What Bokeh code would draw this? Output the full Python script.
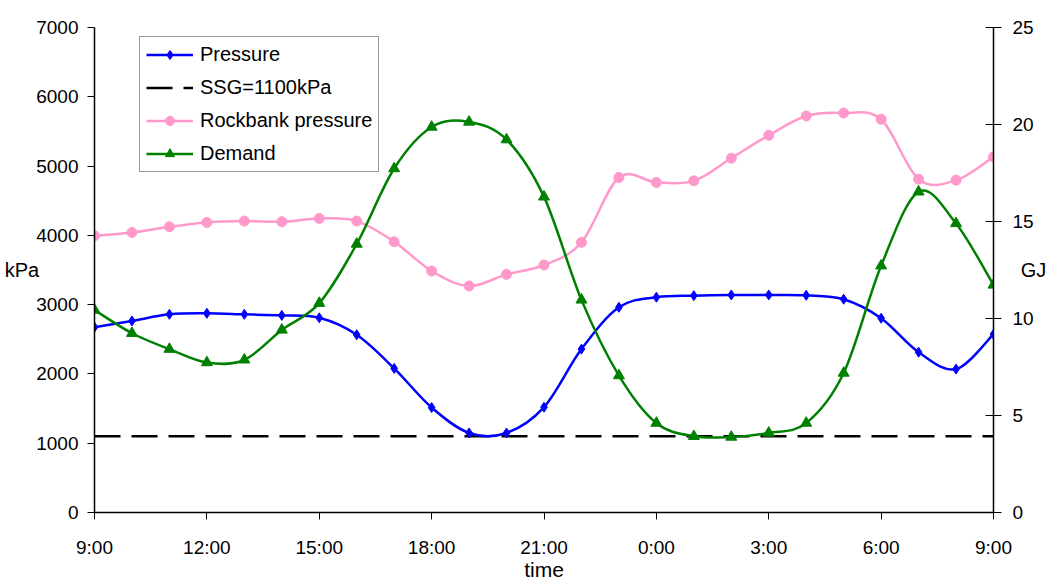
import numpy as np
from bokeh.plotting import figure
from bokeh.models import (Range1d, LinearAxis, FixedTicker, Legend, LegendItem,
                          ColumnDataSource)
from bokeh.embed import file_html
from bokeh.resources import INLINE

# ---------------- data ----------------
times = ["9:00", "10:00", "11:00", "12:00", "13:00", "14:00", "15:00", "16:00",
         "17:00", "18:00", "19:00", "20:00", "21:00", "22:00", "23:00", "0:00",
         "1:00", "2:00", "3:00", "4:00", "5:00", "6:00", "7:00", "8:00", "9:00"]
pressure = [2675, 2765, 2860, 2875, 2860, 2845, 2810, 2565, 2080, 1515, 1148, 1148,
            1520, 2358, 2962, 3107, 3130, 3140, 3140, 3135, 3078, 2804, 2314, 2070, 2574]
rockbank = [3994, 4042, 4124, 4186, 4206, 4196, 4244, 4206, 3908, 3485, 3269, 3437,
            3572, 3899, 4835, 4763, 4787, 5113, 5444, 5723, 5766, 5675, 4811, 4796, 5133]
demand = [10.44, 9.24, 8.42, 7.73, 7.87, 9.41, 10.79, 13.84, 17.73, 19.87, 20.13, 19.22,
          16.27, 10.96, 7.06, 4.61, 3.93, 3.89, 4.10, 4.61, 7.19, 12.72, 16.53, 14.90, 11.73]
ssg_level = 1100
x_tick_labels = ["9:00", "12:00", "15:00", "18:00", "21:00", "0:00", "3:00", "6:00", "9:00"]
left_ticks = [0, 1000, 2000, 3000, 4000, 5000, 6000, 7000]
right_ticks = [0, 5, 10, 15, 20, 25]

xs = list(range(len(times)))
ssg = [ssg_level] * len(times)

FONT = "Liberation Sans"
TICK_SIZE = "19px"
LEGEND_SIZE = "20px"


def smooth_source(x, y):
    """Catmull-Rom style Bezier segments through the data points (Excel smoothed line)."""
    x = np.asarray(x, dtype=float)
    y = np.asarray(y, dtype=float)
    n = len(x)
    d = dict(x0=[], y0=[], x1=[], y1=[], cx0=[], cy0=[], cx1=[], cy1=[])
    for i in range(n - 1):
        im1 = max(i - 1, 0)
        ip2 = min(i + 2, n - 1)
        d["x0"].append(x[i]); d["y0"].append(y[i])
        d["x1"].append(x[i + 1]); d["y1"].append(y[i + 1])
        d["cx0"].append(x[i] + (x[i + 1] - x[im1]) / 6.0)
        d["cy0"].append(y[i] + (y[i + 1] - y[im1]) / 6.0)
        d["cx1"].append(x[i + 1] - (x[ip2] - x[i]) / 6.0)
        d["cy1"].append(y[i + 1] - (y[ip2] - y[i]) / 6.0)
    return ColumnDataSource(d)


p = figure(width=1053, height=583, output_backend="svg", toolbar_location=None,
           x_range=Range1d(0, 24), y_range=Range1d(0, 7000),
           min_border_left=94, min_border_right=60, min_border_top=27,
           min_border_bottom=70, outline_line_color=None, tools="")
p.extra_y_ranges = {"gj": Range1d(0, 25)}
p.xgrid.visible = False
p.ygrid.visible = False
p.background_fill_color = "white"
p.border_fill_color = "white"

# axes styling
for ax in [p.xaxis[0], p.yaxis[0]]:
    ax.axis_line_color = "black"
    ax.axis_line_width = 1.5
    ax.major_tick_line_color = "black"
    ax.major_tick_line_width = 1
    ax.major_tick_in = 0
    ax.major_tick_out = 7
    ax.minor_tick_line_color = None
    ax.major_label_text_font = FONT
    ax.major_label_text_font_size = TICK_SIZE
    ax.major_label_text_color = "black"
    ax.axis_label_text_font = FONT
    ax.axis_label_text_font_size = "20px"
    ax.axis_label_text_font_style = "normal"
    ax.axis_label_text_color = "black"

tick_pos = [0, 3, 6, 9, 12, 15, 18, 21, 24]
p.xaxis[0].ticker = FixedTicker(ticks=tick_pos)
p.xaxis[0].major_label_overrides = {t: lab for t, lab in zip(tick_pos, x_tick_labels)}
p.xaxis[0].axis_label = "time"
p.xaxis[0].axis_label_text_font_size = "21px"
p.xaxis[0].major_label_standoff = 17
p.xaxis[0].axis_label_standoff = -3

p.yaxis[0].ticker = FixedTicker(ticks=left_ticks)
p.yaxis[0].axis_label = "kPa"
p.yaxis[0].axis_label_orientation = "horizontal"
p.yaxis[0].major_label_standoff = 9
p.yaxis[0].axis_label_standoff = -6

raxis = LinearAxis(y_range_name="gj", ticker=FixedTicker(ticks=right_ticks),
                   axis_label="GJ", axis_label_orientation="horizontal")
raxis.axis_line_color = "black"
raxis.axis_line_width = 1.5
raxis.major_tick_line_color = "black"
raxis.major_tick_in = 8
raxis.major_tick_out = 8
raxis.minor_tick_line_color = None
raxis.major_label_text_font = FONT
raxis.major_label_text_font_size = TICK_SIZE
raxis.major_label_text_color = "black"
raxis.major_label_standoff = 11
raxis.axis_label_text_font = FONT
raxis.axis_label_text_font_size = "20px"
raxis.axis_label_text_font_style = "normal"
raxis.axis_label_text_color = "black"
raxis.axis_label_standoff = -16
p.add_layout(raxis, "right")

# series
BLUE = "#0000FF"
PINK = "#FF99CC"
GREEN = "#008000"

ssg_r = p.line(xs, ssg, line_color="black", line_width=2.5, line_dash="26 11")

rock_line = p.bezier(source=smooth_source(xs, rockbank), x0="x0", y0="y0", x1="x1", y1="y1",
                     cx0="cx0", cy0="cy0", cx1="cx1", cy1="cy1",
                     line_color=PINK, line_width=2.5)
rock_pts = p.scatter(xs, rockbank, marker="circle", size=10, fill_color=PINK, line_color=PINK)

pres_line = p.bezier(source=smooth_source(xs, pressure), x0="x0", y0="y0", x1="x1", y1="y1",
                     cx0="cx0", cy0="cy0", cx1="cx1", cy1="cy1",
                     line_color=BLUE, line_width=2.5)
pres_pts = p.scatter(xs, pressure, marker="diamond", size=10,
                     fill_color=BLUE, line_color=BLUE)

dem_line = p.bezier(source=smooth_source(xs, demand), x0="x0", y0="y0", x1="x1", y1="y1",
                    cx0="cx0", cy0="cy0", cx1="cx1", cy1="cy1",
                    line_color=GREEN, line_width=2.5, y_range_name="gj")
dem_pts = p.scatter(xs, demand, marker="triangle", size=11, fill_color=GREEN,
                    line_color=GREEN, y_range_name="gj")

legend = Legend(items=[
    LegendItem(label="Pressure", renderers=[pres_line, pres_pts]),
    LegendItem(label="SSG=1100kPa", renderers=[ssg_r]),
    LegendItem(label="Rockbank pressure", renderers=[rock_line, rock_pts]),
    LegendItem(label="Demand", renderers=[dem_line, dem_pts]),
], location=(45, 340))
legend.border_line_color = "#333333"
legend.border_line_width = 1
legend.background_fill_color = "white"
legend.background_fill_alpha = 1
legend.padding = 6
legend.spacing = 10
legend.label_height = 23
legend.glyph_height = 23
legend.glyph_width = 47
legend.label_standoff = 7
legend.margin = 0
legend.label_text_font = FONT
legend.label_text_font_size = LEGEND_SIZE
legend.label_text_color = "black"
p.add_layout(legend)

open("out.html", "w").write(file_html(p, INLINE))
